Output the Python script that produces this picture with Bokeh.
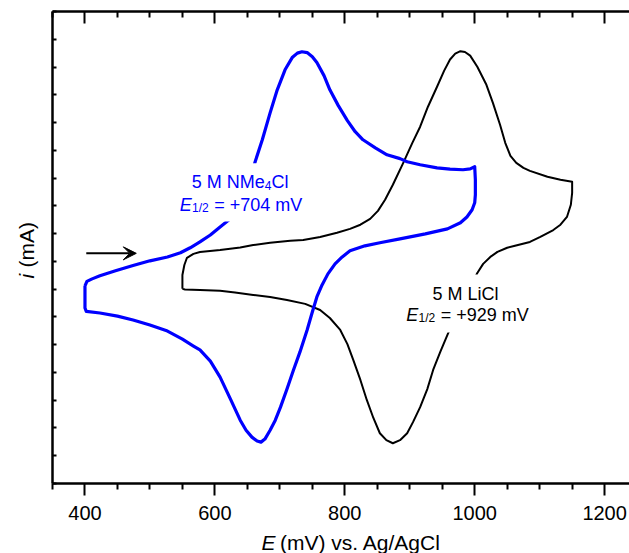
import math
from bokeh.plotting import figure
from bokeh.layouts import row, column
from bokeh.models import (Range1d, LinearAxis, FixedTicker, Label, BoxAnnotation,
                          Arrow, VeeHead)
from bokeh.embed import file_html
from bokeh.resources import INLINE

# ---------------- data (potential in mV, current in arbitrary units) ----------------
# 5 M NMe4Cl : forward (anodic) scan 400 -> 1000 mV
nme4_fwd_E = [400, 403, 411, 423, 447, 474, 500, 527, 547, 562, 577, 593, 608, 620, 630,
              639, 648, 656, 662, 673, 685, 696, 708, 719, 727, 734, 742, 750, 757, 768,
              777, 790, 804, 816, 828, 847, 865, 885, 896, 916, 942, 962, 982, 993, 1000]
nme4_fwd_i = [7.12, 7.28, 7.37, 7.48, 7.66, 7.85, 8.02, 8.16, 8.31, 8.49, 8.70, 8.95, 9.24,
              9.46, 9.68, 10.04, 10.54, 11.08, 11.59, 12.38, 13.35, 14.18, 14.90, 15.34,
              15.50, 15.55, 15.52, 15.37, 15.16, 14.69, 14.18, 13.61, 13.07, 12.67, 12.38,
              12.09, 11.84, 11.70, 11.59, 11.48, 11.37, 11.32, 11.30, 11.33, 11.41]
# 5 M NMe4Cl : reverse (cathodic) scan 1000 -> 400 mV
nme4_rev_E = [1001, 1001, 1000, 996, 988, 978, 958, 924, 885, 854, 831, 808, 796, 785, 774,
              765, 757, 750, 742, 731, 721, 711, 701, 693, 685, 677, 671, 665, 657, 648,
              639, 624, 608, 593, 577, 567, 550, 527, 500, 474, 450, 423, 402, 400, 400, 400]
nme4_rev_i = [10.94, 10.40, 10.11, 9.86, 9.60, 9.39, 9.17, 8.99, 8.81, 8.67, 8.56, 8.38,
              8.16, 7.91, 7.55, 7.15, 6.72, 6.18, 5.53, 4.74, 4.09, 3.40, 2.75, 2.28, 1.92,
              1.60, 1.49, 1.53, 1.67, 1.92, 2.28, 3.04, 3.83, 4.41, 4.81, 4.95, 5.20, 5.49,
              5.71, 5.89, 6.03, 6.14, 6.20, 6.32, 6.79, 7.12]

# 5 M LiCl : forward scan 550 -> 1150 mV
licl_fwd_E = [550, 550, 553, 557, 567, 577, 608, 639, 659, 685, 716, 736, 762, 788, 808,
              824, 839, 851, 862, 874, 890, 904, 916, 928, 942, 953, 962, 970, 978, 985,
              993, 1004, 1018, 1028, 1039, 1047, 1055, 1064, 1075, 1085, 1112, 1132, 1150]
licl_fwd_i = [7.01, 7.51, 7.87, 8.13, 8.27, 8.34, 8.41, 8.50, 8.59, 8.67, 8.74, 8.77, 8.88,
              9.03, 9.17, 9.32, 9.53, 9.82, 10.22, 10.76, 11.55, 12.27, 12.85, 13.57, 14.29,
              14.87, 15.27, 15.48, 15.57, 15.54, 15.41, 15.01, 14.36, 13.71, 12.92, 12.27,
              11.80, 11.55, 11.37, 11.26, 11.05, 10.94, 10.87]
# 5 M LiCl : reverse scan 1150 -> 550 mV
licl_rev_E = [1150, 1148, 1142, 1132, 1121, 1101, 1085, 1062, 1050, 1035, 1024, 1013, 1004,
              995, 985, 975, 964, 958, 947, 936, 927, 916, 905, 896, 885, 874, 864, 854,
              844, 834, 824, 813, 804, 793, 777, 762, 739, 711, 685, 659, 631, 608, 577,
              554, 550]
licl_rev_i = [10.47, 10.04, 9.60, 9.32, 9.13, 8.88, 8.70, 8.56, 8.49, 8.34, 8.16, 7.91, 7.58,
              7.15, 6.68, 6.14, 5.67, 5.35, 4.74, 4.09, 3.40, 2.75, 2.21, 1.81, 1.56, 1.45,
              1.56, 1.81, 2.36, 3.00, 3.73, 4.45, 5.02, 5.53, 5.96, 6.25, 6.47, 6.61, 6.72,
              6.79, 6.88, 6.94, 6.97, 6.99, 7.01]

x_major_ticks = [400, 600, 800, 1000, 1200]
x_minor_ticks = [350, 450, 500, 550, 650, 700, 750, 850, 900, 950, 1050, 1100, 1150]
y_ticks = list(range(0, 18))

labels_nme4 = ["5 M NMe", "4", "Cl"]
labels_e12_nme4 = ["E", "1/2", "= +704 mV"]
label_licl = "5 M LiCl"
labels_e12_licl = ["E", "1/2", "= +929 mV"]
xlabel_parts = ["E", "(mV) vs. Ag/AgCl"]
ylabel_parts = ["i", "(mA)"]

# ---------------- styling ----------------
FONT = "Liberation Sans"
BLUE = "#0000ff"
LIFT = 5      # px: raise labels so that their baseline sits where intended

p = figure(width=589, height=525, output_backend="svg", toolbar_location=None,
           x_range=Range1d(350, 1238.3), y_range=Range1d(0, 17),
           min_border_left=12, min_border_right=0, min_border_top=11,
           min_border_bottom=42)
p.outline_line_color = None
p.grid.visible = False
p.background_fill_color = "white"
p.border_fill_color = "white"

xa = p.xaxis[0]
xa.ticker = FixedTicker(ticks=x_major_ticks, minor_ticks=x_minor_ticks)
xa.axis_line_width = 2.5
xa.major_tick_line_width = 2
xa.minor_tick_line_width = 2
xa.major_tick_out = 12
xa.major_tick_in = 0
xa.minor_tick_out = 6
xa.minor_tick_in = 0
xa.major_label_text_font = FONT
xa.major_label_text_font_size = "20px"
xa.major_label_text_color = "black"
xa.major_label_standoff = 10

top = LinearAxis(ticker=FixedTicker(ticks=x_major_ticks, minor_ticks=x_minor_ticks))
top.axis_line_width = 2.5
top.major_tick_line_width = 2
top.minor_tick_line_width = 2
top.major_tick_in = 12
top.major_tick_out = 0
top.minor_tick_in = 6
top.minor_tick_out = 0
top.major_label_overrides = {t: "" for t in x_major_ticks}
top.major_label_standoff = 0
p.add_layout(top, "above")

ya = p.yaxis[0]
ya.ticker = FixedTicker(ticks=y_ticks, minor_ticks=[])
ya.axis_line_width = 2.5
ya.major_tick_line_width = 2
ya.major_tick_in = 4
ya.major_tick_out = 0
ya.minor_tick_in = 0
ya.minor_tick_out = 0
ya.major_label_overrides = {t: "" for t in y_ticks}
ya.major_label_standoff = 0

# ---------------- curves ----------------
p.line(licl_fwd_E + licl_rev_E, licl_fwd_i + licl_rev_i, line_color="black",
       line_width=2, line_join="round")
p.line(nme4_fwd_E + nme4_rev_E, nme4_fwd_i + nme4_rev_i, line_color=BLUE,
       line_width=3.2, line_join="round")

# white boxes behind the annotations (they hide the curves there)
p.add_layout(BoxAnnotation(left=540, right=739, bottom=9.44, top=11.53,
                           fill_color="white", fill_alpha=1, line_color=None))
p.add_layout(BoxAnnotation(left=888, right=1085, bottom=5.44, top=7.53,
                           fill_color="white", fill_alpha=1, line_color=None))


def txt(fig, x, y, t, size, color="black", italic=False, xo=0, yo=0, angle=0):
    fig.add_layout(Label(x=x, y=y, text=t, x_offset=xo, y_offset=yo, angle=angle,
                         text_font=FONT, text_font_size=size, text_color=color,
                         text_font_style="italic" if italic else "normal",
                         text_align="left", text_baseline="alphabetic"))


# NMe4Cl annotation
txt(p, 564.3, 10.674, labels_nme4[0], "18px", BLUE, yo=LIFT)
txt(p, 564.3, 10.674, labels_nme4[1], "12px", BLUE, xo=73.0, yo=LIFT - 3.5)
txt(p, 564.3, 10.674, labels_nme4[2], "18px", BLUE, xo=79.7, yo=LIFT)
txt(p, 545.8, 9.856, labels_e12_nme4[0], "18px", BLUE, italic=True, yo=LIFT)
txt(p, 545.8, 9.856, labels_e12_nme4[1], "12px", BLUE, xo=12.3, yo=LIFT - 3.5)
txt(p, 545.8, 9.856, labels_e12_nme4[2], "18px", BLUE, xo=34.5, yo=LIFT)

# LiCl annotation
txt(p, 935.0, 6.635, label_licl, "18px", "black", yo=LIFT)
txt(p, 894.5, 5.889, labels_e12_licl[0], "18px", "black", italic=True, yo=LIFT)
txt(p, 894.5, 5.889, labels_e12_licl[1], "12px", "black", xo=12.3, yo=LIFT - 3.5)
txt(p, 894.5, 5.889, labels_e12_licl[2], "18px", "black", xo=34.5, yo=LIFT)

# scan direction arrow
p.add_layout(Arrow(end=VeeHead(size=13, fill_color="black", line_color="black"),
                   x_start=402, y_start=8.29, x_end=479, y_end=8.29,
                   line_color="black", line_width=2))

# ---------------- axis titles (separate strips so mixed styles are possible) ----------------
xlab = figure(width=589, height=28, output_backend="svg", toolbar_location=None,
              x_range=Range1d(0, 589), y_range=Range1d(0, 28),
              x_axis_type=None, y_axis_type=None, min_border=0)
xlab.outline_line_color = None
xlab.grid.visible = False
txt(xlab, 213.3, 11.5, xlabel_parts[0], "21px", italic=True)
txt(xlab, 213.3, 11.5, xlabel_parts[1], "21px", xo=18.5)

ylab = figure(width=40, height=553, output_backend="svg", toolbar_location=None,
              x_range=Range1d(0, 40), y_range=Range1d(0, 553),
              x_axis_type=None, y_axis_type=None, min_border=0)
ylab.outline_line_color = None
ylab.grid.visible = False
txt(ylab, 25.5, 275, ylabel_parts[0], "21px", italic=True, angle=math.pi / 2)
txt(ylab, 25.5, 286.0, ylabel_parts[1], "21px", angle=math.pi / 2)

layout = row(ylab, column(p, xlab, spacing=0), spacing=0)
open("out.html", "w").write(file_html(layout, INLINE))
